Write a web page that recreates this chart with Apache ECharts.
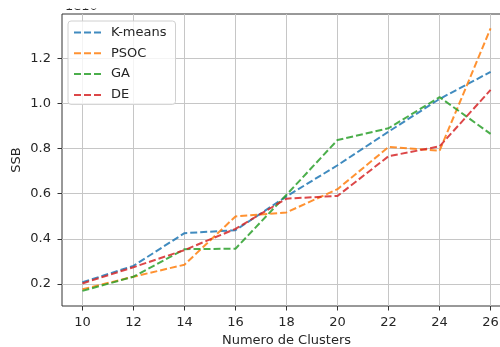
<!DOCTYPE html>
<html>
<head>
	<meta charset="utf-8"/>
	<title>SSB por numero de clusters</title>
</head>
<body style="margin: 0; background: #fff;">

	<div id="chart" style="width: 500px; height: 347px;"></div>

	<script src="https://cdn.jsdelivr.net/npm/echarts@6/dist/echarts.min.js"></script>
	<script>

		var clusters = [10, 12, 14, 16, 18, 20, 22, 24, 26];
		var kmeans = [0.207, 0.280, 0.425, 0.438, 0.588, 0.726, 0.875, 1.020, 1.140];
		var psoc   = [0.176, 0.232, 0.285, 0.499, 0.517, 0.620, 0.807, 0.790, 1.333];
		var ga     = [0.169, 0.232, 0.354, 0.356, 0.595, 0.838, 0.890, 1.028, 0.865];
		var de     = [0.202, 0.274, 0.350, 0.444, 0.578, 0.590, 0.766, 0.810, 1.060];
		var xTicks = [10, 12, 14, 16, 18, 20, 22, 24, 26];
		var yTicks = [0.2, 0.4, 0.6, 0.8, 1.0, 1.2];

		var font = 'DejaVu Sans';
		var textColor = '#262626';

		function pairs (ys) {
			var res = [];
			for (var i = 0; i < clusters.length; i++) {
				res.push([clusters[i], ys[i]]);
			}
			return res;
		}

		function serie (name, ys, color) {
			return {
				name: name,
				type: 'line',
				data: pairs(ys),
				symbol: 'none',
				lineStyle: {
					color: color,
					width: 2,
					type: [7, 3],
					opacity: 0.85
				},
				itemStyle: { color: color }
			};
		}

		var myChart = echarts.init(document.getElementById('chart'));

		var option = {
			animation: false,
			textStyle: { fontFamily: font },
			grid: {
				left: 62, top: 14, right: -11, bottom: 41,
				outerBoundsMode: 'none',
				containLabel: false,
				show: true,
				borderColor: '#333',
				borderWidth: 1
			},
			// texto de offset, solo se ve la parte de abajo
			graphic: [{
				type: 'text',
				left: 65,
				top: 0,
				z: 1,
				style: { text: '1e10', font: '13px DejaVu Sans', fill: textColor }
			}, {
				type: 'rect',
				left: 55,
				top: 0,
				z: 2,
				shape: { width: 50, height: 8.5 },
				style: { fill: '#fff' }
			}],
			legend: {
				orient: 'vertical',
				left: 68,
				top: 21,
				padding: [5, 9, 3, 5],
				itemWidth: 28,
				itemHeight: 14,
				itemGap: 7.8,
				borderColor: '#d0d0d0',
				borderWidth: 1,
				borderRadius: 3,
				backgroundColor: 'rgba(255,255,255,0.8)',
				itemStyle: { opacity: 0 },
				textStyle: { fontFamily: font, fontSize: 13, color: textColor, padding: [0, 0, 0, 4] },
				data: ['K-means', 'PSOC', 'GA', 'DE']
			},
			xAxis: {
				type: 'value',
				min: 9.2,
				max: 26.8,
				name: 'Numero de Clusters',
				nameLocation: 'middle',
				nameGap: 26.5,
				nameTextStyle: { fontFamily: font, fontSize: 13, color: textColor },
				axisLine: { show: false },
				axisTick: { show: true, length: 4.5, lineStyle: { color: '#333' }, customValues: xTicks },
				axisLabel: { fontFamily: font, fontSize: 13, color: textColor, margin: 10, customValues: xTicks },
				splitLine: { show: true, lineStyle: { color: '#c6c6c6', width: 1 } }
			},
			yAxis: {
				type: 'value',
				min: 0.102,
				max: 1.3966,
				name: 'SSB',
				nameLocation: 'middle',
				nameRotate: 90,
				nameGap: 39,
				nameMoveOverlap: false,
				nameTextStyle: { fontFamily: font, fontSize: 13, color: textColor },
				axisLine: { show: false },
				axisTick: { show: true, length: 4.5, lineStyle: { color: '#333' }, customValues: yTicks },
				axisLabel: {
					fontFamily: font, fontSize: 13, color: textColor, margin: 11,
					customValues: yTicks,
					formatter: function (v) { return v.toFixed(1); }
				},
				splitLine: { show: true, lineStyle: { color: '#c6c6c6', width: 1 } }
			},
			series: [
				serie('K-means', kmeans, '#1f77b4'),
				serie('PSOC', psoc, '#ff7f0e'),
				serie('GA', ga, '#2ca02c'),
				serie('DE', de, '#d62728')
			]
		};

		myChart.setOption(option);

	</script>
</body>
</html>
